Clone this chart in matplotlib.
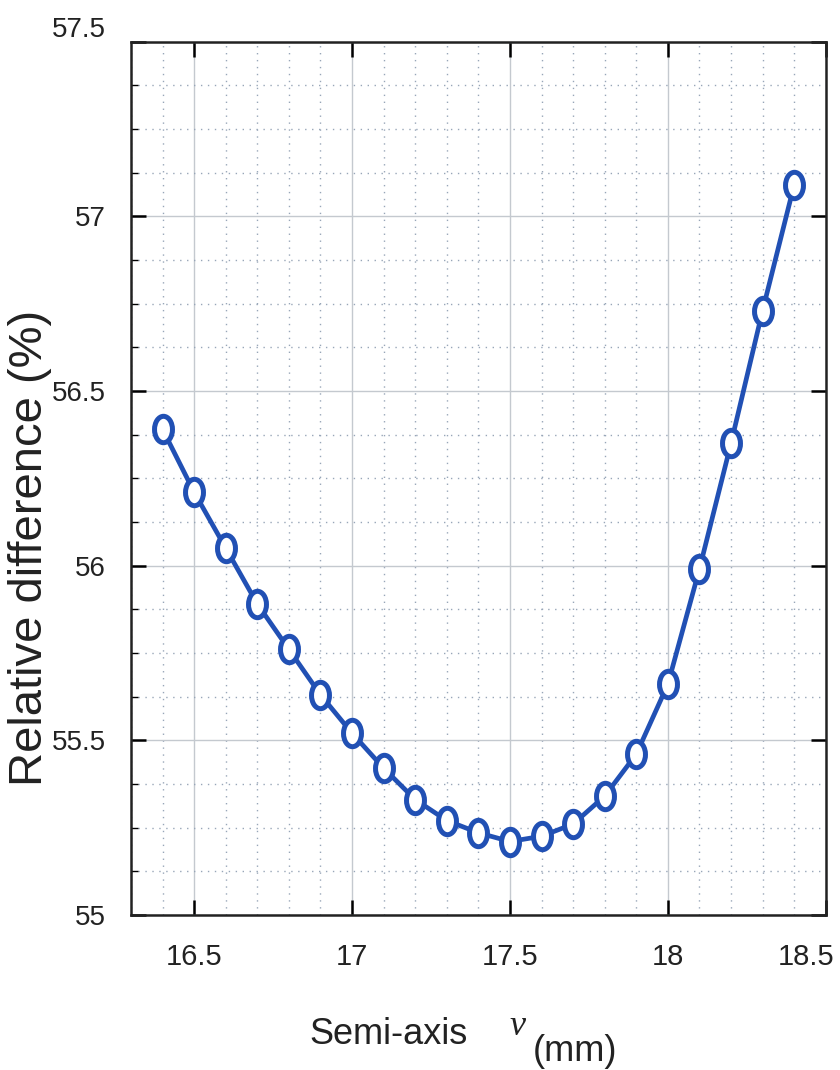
import numpy as np
import matplotlib.pyplot as plt
from matplotlib.path import Path
from matplotlib.ticker import MultipleLocator
from matplotlib.transforms import ScaledTranslation

# 半轴长度 v (mm) 与相对差值 (%)
semi_axis = [16.4, 16.5, 16.6, 16.7, 16.8, 16.9, 17.0, 17.1, 17.2, 17.3, 17.4,
             17.5, 17.6, 17.7, 17.8, 17.9, 18.0, 18.1, 18.2, 18.3, 18.4]
rel_diff = [56.39, 56.21, 56.05, 55.89, 55.76, 55.63, 55.52, 55.42, 55.33, 55.27, 55.235,
            55.21, 55.225, 55.26, 55.34, 55.46, 55.66, 55.99, 56.35, 56.73, 57.09]
x_ticks = [16.5, 17, 17.5, 18, 18.5]
y_ticks = [55, 55.5, 56, 56.5, 57, 57.5]

sans = ['Liberation Sans', 'DejaVu Sans']
blue = '#2150b4'
ink = '#222222'


def ellipse_marker():
    # 竖向略长的空心圆圈
    circ = Path.unit_circle()
    verts = circ.vertices * np.array([0.68, 1.0])
    return Path(verts, circ.codes)


def show():
    fig = plt.figure(figsize=(8.4, 10.7), dpi=100)
    ax = fig.add_axes([0.156, 0.145, 0.827, 0.816])

    ax.plot(semi_axis, rel_diff, color=blue, lw=3.4, marker=ellipse_marker(),
            ms=19, mfc='white', mec=blue, mew=3.6, zorder=3)

    ax.set_xlim(16.3, 18.5)
    ax.set_ylim(55, 57.5)
    ax.set_xticks(x_ticks)
    ax.set_xticklabels(['16.5', '17', '17.5', '18', '18.5'])
    ax.set_yticks(y_ticks)
    ax.set_yticklabels(['55', '55.5', '56', '56.5', '57', '57.5'])
    ax.xaxis.set_minor_locator(MultipleLocator(0.1))
    ax.yaxis.set_minor_locator(MultipleLocator(0.125))

    # 网格：主网格实线，次网格点线
    ax.grid(which='major', color='#c4c9cf', lw=1.0, ls='-')
    ax.grid(which='minor', color='#98a6b8', lw=1.0, ls=(0, (1, 4)))
    ax.set_axisbelow(True)

    ax.tick_params(which='major', direction='in', length=11, width=1.8,
                   top=True, right=True, pad=18, labelsize=20)
    ax.tick_params(which='minor', direction='in', length=5, width=1.0,
                   top=False, bottom=False, left=True, right=False)
    ax.tick_params(axis='x', which='major', pad=20, labelsize=21)
    for lab in ax.get_xticklabels() + ax.get_yticklabels():
        lab.set_family(sans)
        lab.set_color(ink)
    # 最右和最上的刻度标签稍微内移
    xl = ax.get_xticklabels()[-1]
    xl.set_transform(xl.get_transform() + ScaledTranslation(-0.2, 0, fig.dpi_scale_trans))
    yl = ax.get_yticklabels()[-1]
    yl.set_transform(yl.get_transform() + ScaledTranslation(0, 0.15, fig.dpi_scale_trans))
    for sp in ax.spines.values():
        sp.set_linewidth(1.8)
        sp.set_color(ink)

    ax.set_ylabel('Relative difference (%)', fontsize=34, family=sans, color=ink)
    ax.yaxis.set_label_coords(-0.114, 0.42)

    # 横轴标题分三段书写
    fig.text(0.462, 0.033, 'Semi-axis', fontsize=26, family=sans,
             ha='center', va='center', color=ink)
    fig.text(0.616, 0.041, 'v', fontsize=26, family=['Liberation Serif', 'DejaVu Serif'],
             style='italic', ha='center', va='center', color=ink)
    fig.text(0.685, 0.017, '(mm)', fontsize=26, family=sans,
             ha='center', va='center', color=ink)

    plt.savefig('out.png', dpi=100)


if __name__ == '__main__':
    show()
